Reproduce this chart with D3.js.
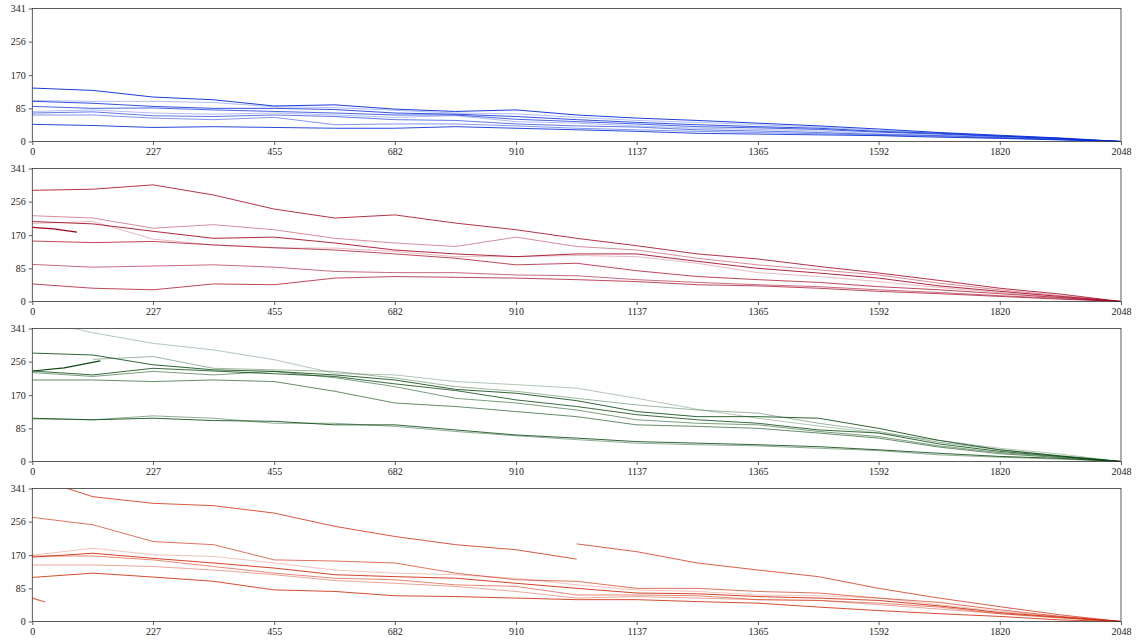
<!DOCTYPE html>
<html>
<head>
<meta charset="utf-8">
<title>Trajectories</title>
<script src="https://cdn.jsdelivr.net/npm/d3@7"></script>
<style>
    body { margin: 0; background: #fff; }
    .tick text { font-family: "Liberation Serif", "DejaVu Serif", serif; font-size: 10px; fill: #222; }
</style>
</head>
<body>
<div id="chart"></div>
<script>
    const width = 1136, height = 643;

    // shared x positions of the sampled points
    const steps = [0, 114, 227, 341, 455, 569, 682, 796, 910, 1024, 1137, 1251, 1365, 1479, 1592, 1706, 1820, 1934, 2048];

    const xTickLabels = [0, 227, 455, 682, 910, 1137, 1365, 1592, 1820, 2048];
    const yTickLabels = [0, 85, 170, 256, 341];

    const blueSeries = [
        [137, 131, 114, 107, 91, 94, 83, 77, 81, 68, 60, 54, 47, 40, 32, 23, 16, 9, 0],
        [105, 103, 103, 100, 89, 87, 80, 73, 71, 62, 54, 49, 43, 37, 29, 22, 15, 8, 0],
        [103, 98, 90, 85, 85, 82, 73, 70, 64, 56, 49, 43, 38, 34, 26, 21, 14, 8, 0],
        [90, 85, 86, 81, 77, 73, 68, 68, 57, 51, 45, 38, 35, 31, 24, 19, 13, 7, 0],
        [77, 81, 73, 70, 73, 68, 62, 66, 51, 47, 40, 34, 31, 27, 20, 16, 12, 6, 0],
        [73, 76, 66, 64, 68, 64, 56, 54, 45, 40, 37, 30, 27, 23, 18, 15, 10, 5, 0],
        [68, 68, 60, 56, 62, 43, 45, 45, 40, 34, 30, 26, 23, 20, 16, 13, 9, 5, 0],
        [44, 41, 36, 38, 36, 34, 34, 38, 34, 30, 26, 21, 19, 17, 15, 11, 8, 4, 0]
    ];
    const redSeries = [
        [285, 288, 299, 273, 237, 214, 222, 201, 184, 162, 143, 122, 109, 90, 73, 54, 34, 19, 0],
        [220, 214, 188, 197, 184, 162, 150, 141, 165, 141, 132, 111, 94, 81, 68, 47, 30, 15, 0],
        [205, 199, 180, 162, 165, 150, 132, 122, 115, 122, 122, 103, 85, 73, 60, 40, 26, 13, 0],
        [200, 205, 160, 145, 137, 137, 128, 115, 115, 118, 115, 98, 74, 64, 51, 36, 23, 11, 0],
        [155, 151, 154, 145, 138, 132, 122, 111, 94, 98, 79, 64, 56, 49, 38, 30, 20, 10, 0],
        [95, 88, 91, 94, 88, 77, 74, 74, 68, 66, 56, 49, 43, 38, 30, 23, 15, 8, 0],
        [45, 34, 30, 45, 43, 60, 64, 62, 60, 56, 51, 43, 40, 34, 26, 20, 13, 6, 0]
    ];
    const greenSeries = [
        [365, 330, 303, 286, 261, 226, 222, 205, 197, 188, 162, 134, 111, 91, 73, 54, 34, 19, 0],
        [null, 262, 269, 239, 235, 231, 214, 192, 180, 162, 145, 132, 124, 98, 77, 49, 30, 15, 0],
        [278, 273, 248, 235, 231, 222, 209, 185, 175, 156, 128, 115, 115, 111, 85, 54, 30, 14, 0],
        [232, 222, 239, 232, 225, 218, 199, 182, 158, 141, 120, 107, 98, 81, 73, 45, 26, 13, 0],
        [228, 218, 231, 222, 231, 215, 192, 162, 150, 132, 107, 98, 94, 77, 64, 40, 23, 12, 0],
        [209, 209, 205, 209, 205, 180, 150, 141, 128, 115, 94, 90, 85, 73, 60, 37, 20, 10, 0],
        [111, 107, 111, 105, 103, 94, 94, 81, 68, 60, 51, 47, 43, 38, 30, 21, 13, 8, 0],
        [109, 107, 117, 111, 98, 98, 90, 77, 66, 56, 47, 43, 40, 34, 28, 17, 11, 6, 0]
    ];
    const orangeSeries = [
        [370, 320, 303, 297, 278, 244, 218, 197, 184, 160, null, null, null, null, null, null, null, null, null],
        [null, null, null, null, null, null, null, null, null, 199, 179, 150, 132, 115, 85, 60, 38, 17, 0],
        [267, 248, 205, 197, 158, 155, 150, 124, 107, 103, 85, 85, 77, 73, 60, 49, 30, 13, 0],
        [170, 188, 171, 167, 150, 132, 124, 120, 111, 94, 81, 77, 68, 66, 60, 43, 26, 13, 0],
        [165, 175, 162, 150, 137, 120, 115, 111, 98, 85, 73, 71, 64, 60, 54, 40, 23, 11, 0],
        [168, 168, 158, 141, 124, 111, 107, 94, 90, 68, 68, 66, 56, 54, 47, 37, 20, 10, 0],
        [145, 145, 141, 132, 120, 105, 98, 90, 77, 60, 64, 60, 56, 54, 43, 32, 20, 9, 0],
        [113, 124, 114, 103, 81, 77, 66, 64, 60, 56, 56, 51, 47, 37, 28, 20, 13, 4, 0]
    ];

    // short pieces that do not follow the shared grid: [x, value]
    const redPieces = [[[0, 190], [40, 186], [84, 178]]];
    const greenPieces = [[[0, 232], [60, 240], [128, 258]]];
    const orangePieces = [[[0, 60], [24, 50]]];

    const panels = [
        { series: blueSeries, pieces: [], color: "#0029d6", shade: [1, 0.35, 0.9, 0.8, 0.35, 0.7, 0.55, 0.95], pieceShade: [] },
        { series: redSeries, pieces: redPieces, color: "#a3001e", shade: [0.9, 0.5, 0.95, 0.3, 0.8, 0.65, 0.8], pieceShade: [1] },
        { series: greenSeries, pieces: greenPieces, color: "#0a4a10", shade: [0.35, 0.45, 0.95, 0.9, 0.6, 0.7, 0.95, 0.5], pieceShade: [1] },
        { series: orangeSeries, pieces: orangePieces, color: "#cc2200", shade: [0.85, 0.8, 0.7, 0.3, 0.95, 0.6, 0.45, 0.9], pieceShade: [0.7] }
    ];

    const left = 32.3, right = 1121, panelTop = 8.5, panelH = 133, panelGap = 160;

    const svg = d3.select("#chart").append("svg")
        .attr("width", width)
        .attr("height", height);

    const x = d3.scaleLinear().domain([0, 2048]).range([left, right]);

    panels.forEach((p, i) => {
        const top = panelTop + i * panelGap;
        const y = d3.scaleLinear().domain([0, 341]).range([top + panelH, top]);

        svg.append("clipPath")
            .attr("id", "clip" + i)
            .append("rect")
            .attr("x", left).attr("y", top)
            .attr("width", right - left).attr("height", panelH);

        const line = d3.line()
            .defined(d => d[1] != null)
            .x(d => x(d[0]))
            .y(d => y(d[1]));

        const g = svg.append("g").attr("clip-path", "url(#clip" + i + ")");

        g.selectAll("path.series")
            .data(p.series)
            .join("path")
            .attr("class", "series")
            .attr("fill", "none")
            .attr("stroke", p.color)
            .attr("stroke-opacity", (d, j) => p.shade[j])
            .attr("stroke-width", 0.9)
            .attr("stroke-linejoin", "round")
            .attr("d", d => line(d.map((v, k) => [steps[k], v])));

        g.selectAll("path.piece")
            .data(p.pieces)
            .join("path")
            .attr("class", "piece")
            .attr("fill", "none")
            .attr("stroke", p.color)
            .attr("stroke-opacity", (d, j) => p.pieceShade[j])
            .attr("stroke-width", 1.2)
            .attr("d", line);

        // frame
        svg.append("rect")
            .attr("x", left).attr("y", top)
            .attr("width", right - left).attr("height", panelH)
            .attr("fill", "none")
            .attr("stroke", "#333")
            .attr("stroke-width", 0.8);

        const xAxis = svg.append("g")
            .attr("transform", `translate(0,${top + panelH})`)
            .call(d3.axisBottom(x).tickValues(xTickLabels).tickSize(3.5).tickPadding(3).tickFormat(d3.format("d")));
        const yAxis = svg.append("g")
            .attr("transform", `translate(${left},0)`)
            .call(d3.axisLeft(y).tickValues(yTickLabels).tickSize(3.5).tickPadding(3).tickFormat(d3.format("d")));

        [xAxis, yAxis].forEach(a => {
            a.select(".domain").remove();
            a.selectAll(".tick line").attr("stroke", "#333").attr("stroke-width", 0.8);
        });
    });
</script>
</body>
</html>
